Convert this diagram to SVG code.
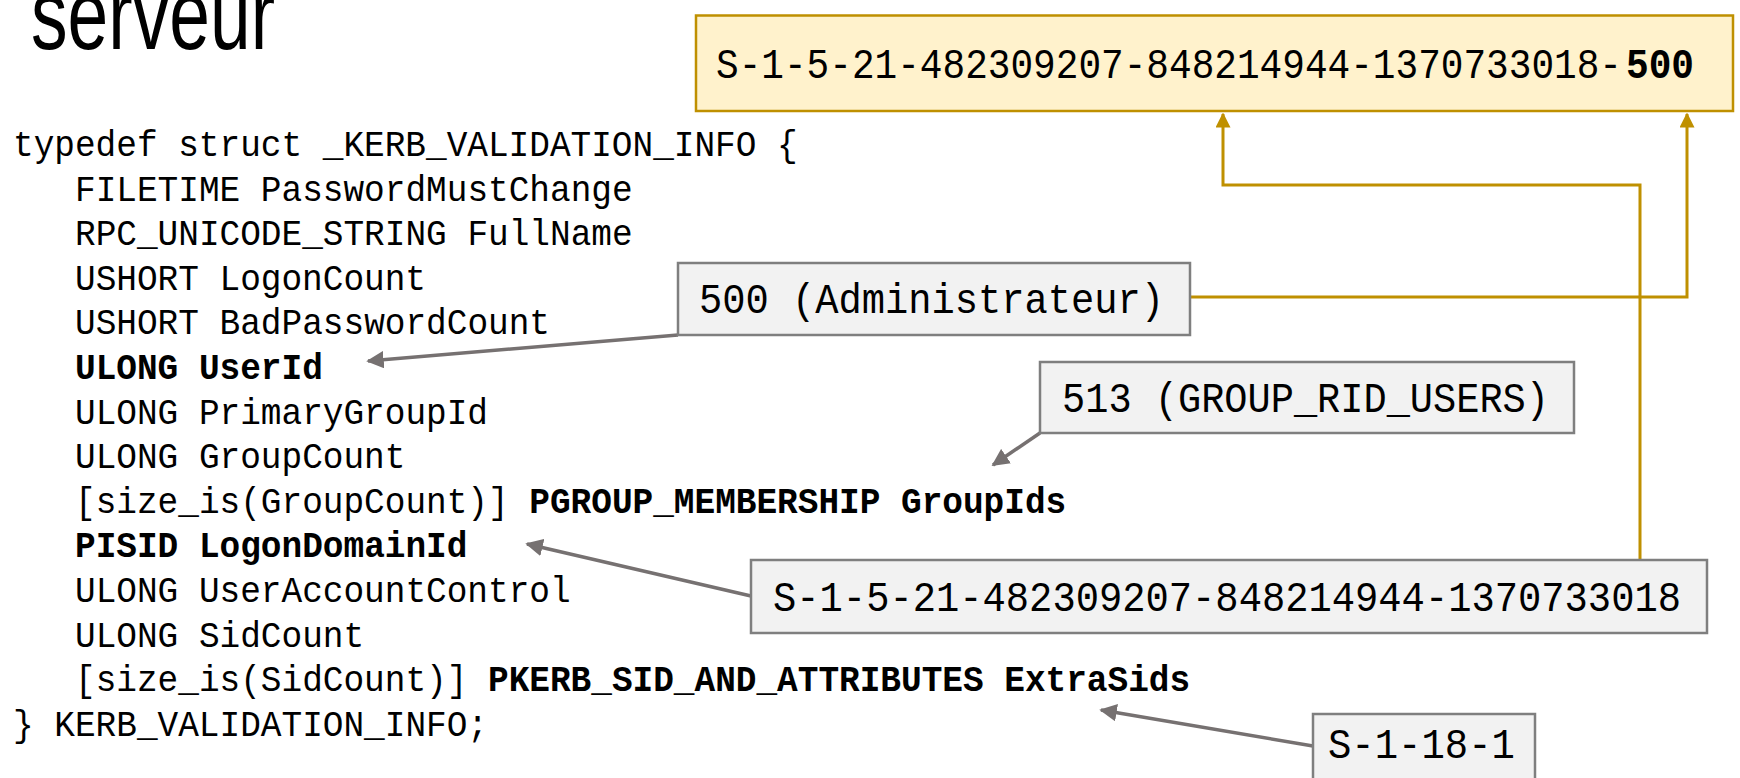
<svg xmlns="http://www.w3.org/2000/svg" width="1740" height="778" viewBox="0 0 1740 778">
<style>
.code{font-family:"Liberation Mono","DejaVu Sans Mono",monospace;font-size:37.5px;fill:#000}
.lbl{font-family:"Liberation Mono","DejaVu Sans Mono",monospace;font-size:42px;fill:#000}
.b{font-weight:bold}
.gbox{fill:#F2F2F2;stroke:#7F7F7F;stroke-width:2.5}
.ybox{fill:#FFF2CC;stroke:#BF9000;stroke-width:2.5}
.gl{fill:none;stroke:#BF9000;stroke-width:3}
.ga{fill:none;stroke:#767171;stroke-width:3.5}
</style>
<defs>
<marker id="ag" viewBox="0 0 10 10" refX="9" refY="5" markerWidth="5" markerHeight="5" orient="auto" markerUnits="strokeWidth">
<path d="M0,0 L10,5 L0,10 z" fill="#767171"/>
</marker>
<marker id="ay" viewBox="0 0 10 10" refX="9" refY="5" markerWidth="5" markerHeight="5" orient="auto" markerUnits="strokeWidth">
<path d="M0,0 L10,5 L0,10 z" fill="#BF9000"/>
</marker>
</defs>
<rect width="1740" height="778" fill="#fff"/>
<text x="31" y="49" font-family="Liberation Sans,Arial,sans-serif" font-size="100" textLength="244" lengthAdjust="spacingAndGlyphs">serveur</text>
<g id="code">
<text class="code" x="13" y="156" textLength="784.7" lengthAdjust="spacingAndGlyphs">typedef struct _KERB_VALIDATION_INFO {</text>
<text class="code" x="75" y="200.6" textLength="557.6" lengthAdjust="spacingAndGlyphs">FILETIME PasswordMustChange</text>
<text class="code" x="75" y="245.2" textLength="557.6" lengthAdjust="spacingAndGlyphs">RPC_UNICODE_STRING FullName</text>
<text class="code" x="75" y="289.8" textLength="351" lengthAdjust="spacingAndGlyphs">USHORT LogonCount</text>
<text class="code" x="75" y="334.4" textLength="475" lengthAdjust="spacingAndGlyphs">USHORT BadPasswordCount</text>
<text class="code b" x="75" y="379" textLength="247.8" lengthAdjust="spacingAndGlyphs">ULONG UserId</text>
<text class="code" x="75" y="423.6" textLength="413" lengthAdjust="spacingAndGlyphs">ULONG PrimaryGroupId</text>
<text class="code" x="75" y="468.2" textLength="330.4" lengthAdjust="spacingAndGlyphs">ULONG GroupCount</text>
<text class="code" x="75" y="512.8" textLength="991.2" lengthAdjust="spacingAndGlyphs">[size_is(GroupCount)] <tspan class="b">PGROUP_MEMBERSHIP GroupIds</tspan></text>
<text class="code b" x="75" y="557.4" textLength="392.4" lengthAdjust="spacingAndGlyphs">PISID LogonDomainId</text>
<text class="code" x="75" y="602" textLength="495.6" lengthAdjust="spacingAndGlyphs">ULONG UserAccountControl</text>
<text class="code" x="75" y="646.6" textLength="289.1" lengthAdjust="spacingAndGlyphs">ULONG SidCount</text>
<text class="code" x="75" y="691.2" textLength="1115.1" lengthAdjust="spacingAndGlyphs">[size_is(SidCount)] <tspan class="b">PKERB_SID_AND_ATTRIBUTES ExtraSids</tspan></text>
<text class="code" x="13" y="735.8" textLength="475" lengthAdjust="spacingAndGlyphs">} KERB_VALIDATION_INFO;</text>
</g>
<g id="connectors">
<polyline class="gl" points="1640,560 1640,185 1223,185 1223,114" marker-end="url(#ay)"/>
<polyline class="gl" points="1190,297 1687,297 1687,114" marker-end="url(#ay)"/>
<line class="ga" x1="678" y1="335" x2="368" y2="361" marker-end="url(#ag)"/>
<line class="ga" x1="1040" y1="433" x2="993" y2="465" marker-end="url(#ag)"/>
<line class="ga" x1="751" y1="596" x2="527" y2="544" marker-end="url(#ag)"/>
<line class="ga" x1="1313" y1="746" x2="1101" y2="710" marker-end="url(#ag)"/>
</g>
<g id="sid500">
<rect class="ybox" x="696" y="15.5" width="1037" height="95.5"/>
<text class="lbl" x="716" y="78" font-size="41" textLength="906" lengthAdjust="spacingAndGlyphs">S-1-5-21-482309207-848214944-1370733018-</text>
<text class="lbl b" x="1626" y="78" font-size="41" textLength="68" lengthAdjust="spacingAndGlyphs">500</text>
</g>
<g id="admin">
<rect class="gbox" x="678" y="263" width="512" height="72"/>
<text class="lbl" x="699" y="313" textLength="465" lengthAdjust="spacingAndGlyphs">500 (Administrateur)</text>
</g>
<g id="groupusers">
<rect class="gbox" x="1040" y="362" width="534" height="71"/>
<text class="lbl" x="1062" y="412" textLength="487" lengthAdjust="spacingAndGlyphs">513 (GROUP_RID_USERS)</text>
</g>
<g id="domainsid">
<rect class="gbox" x="751" y="560" width="956" height="73"/>
<text class="lbl" x="773" y="611" textLength="908" lengthAdjust="spacingAndGlyphs">S-1-5-21-482309207-848214944-1370733018</text>
</g>
<g id="extrasid">
<rect class="gbox" x="1313" y="714" width="222" height="80"/>
<text class="lbl" x="1328" y="758" textLength="187" lengthAdjust="spacingAndGlyphs">S-1-18-1</text>
</g>
</svg>
